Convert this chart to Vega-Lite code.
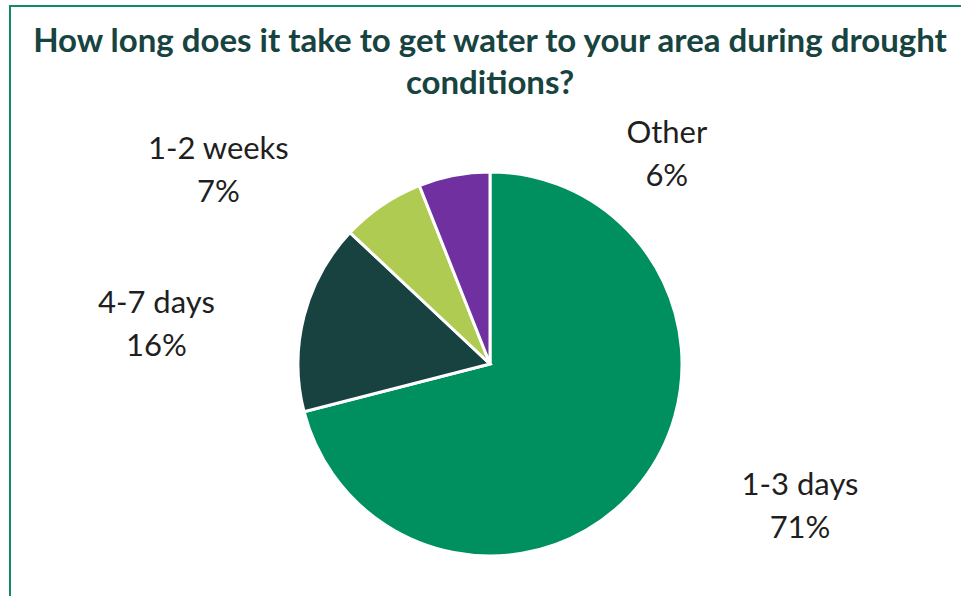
{
  "$schema": "https://vega.github.io/schema/vega-lite/v6.json",
  "width": 960,
  "height": 716,
  "autosize": {"type": "none"},
  "padding": {"left": 10, "top": 6, "right": 0, "bottom": 0},
  "background": "white",
  "config": {
    "view": {"stroke": null},
    "font": "Lato"
  },
  "title": {
    "text": ["How long does it take to get water to your area during drought", "conditions?"],
    "font": "Lato",
    "fontSize": 33,
    "fontWeight": "bold",
    "color": "#174340",
    "lineHeight": 42,
    "anchor": "middle",
    "frame": "group",
    "baseline": "top",
    "offset": -96
  },
  "data": {
    "values": [
      {"category": "1-3 days", "value": 71},
      {"category": "4-7 days", "value": 16},
      {"category": "1-2 weeks", "value": 7},
      {"category": "Other", "value": 6}
    ]
  },
  "transform": [
    {"stack": "value", "groupby": [], "as": ["v0", "v1"], "sort": [{"field": "value", "order": "descending"}]},
    {"calculate": "(datum.v0 + datum.v1) / 2", "as": "vmid"},
    {"calculate": "[datum.category, datum.value + '%']", "as": "label"}
  ],
  "layer": [
    {
      "data": {"values": [{}]},
      "transform": [],
      "mark": {"type": "rect", "fill": null, "stroke": "#0F8B6C", "strokeWidth": 2},
      "encoding": {}
    },
    {
      "mark": {"type": "arc", "outerRadius": 192, "stroke": "white", "strokeWidth": 3},
      "encoding": {
        "theta": {"field": "v0", "type": "quantitative", "scale": {"domain": [0, 100]}},
        "theta2": {"field": "v1"},
        "color": {
          "field": "category",
          "type": "nominal",
          "scale": {
            "domain": ["1-3 days", "4-7 days", "1-2 weeks", "Other"],
            "range": ["#008F5F", "#174240", "#B0CB52", "#7030A0"]
          },
          "legend": null
        }
      }
    },
    {
      "transform": [{"filter": "datum.category == '1-3 days'"}],
      "mark": {"type": "text", "radius": 300, "dx": 73, "dy": -62, "fontSize": 31, "lineHeight": 43, "color": "#1F1F1F", "align": "center", "baseline": "middle"},
      "encoding": {"theta": {"field": "vmid", "type": "quantitative"}, "text": {"field": "label"}}
    },
    {
      "transform": [{"filter": "datum.category == '4-7 days'"}],
      "mark": {"type": "text", "radius": 300, "dx": -43, "dy": 15, "fontSize": 31, "lineHeight": 43, "color": "#1F1F1F", "align": "center", "baseline": "middle"},
      "encoding": {"theta": {"field": "vmid", "type": "quantitative"}, "text": {"field": "label"}}
    },
    {
      "transform": [{"filter": "datum.category == '1-2 weeks'"}],
      "mark": {"type": "text", "radius": 300, "dx": -103, "dy": 34, "fontSize": 31, "lineHeight": 43, "color": "#1F1F1F", "align": "center", "baseline": "middle"},
      "encoding": {"theta": {"field": "vmid", "type": "quantitative"}, "text": {"field": "label"}}
    },
    {
      "transform": [{"filter": "datum.category == 'Other'"}],
      "mark": {"type": "text", "radius": 300, "dx": 233, "dy": 65, "fontSize": 31, "lineHeight": 43, "color": "#1F1F1F", "align": "center", "baseline": "middle"},
      "encoding": {"theta": {"field": "vmid", "type": "quantitative"}, "text": {"field": "label"}}
    }
  ]
}
